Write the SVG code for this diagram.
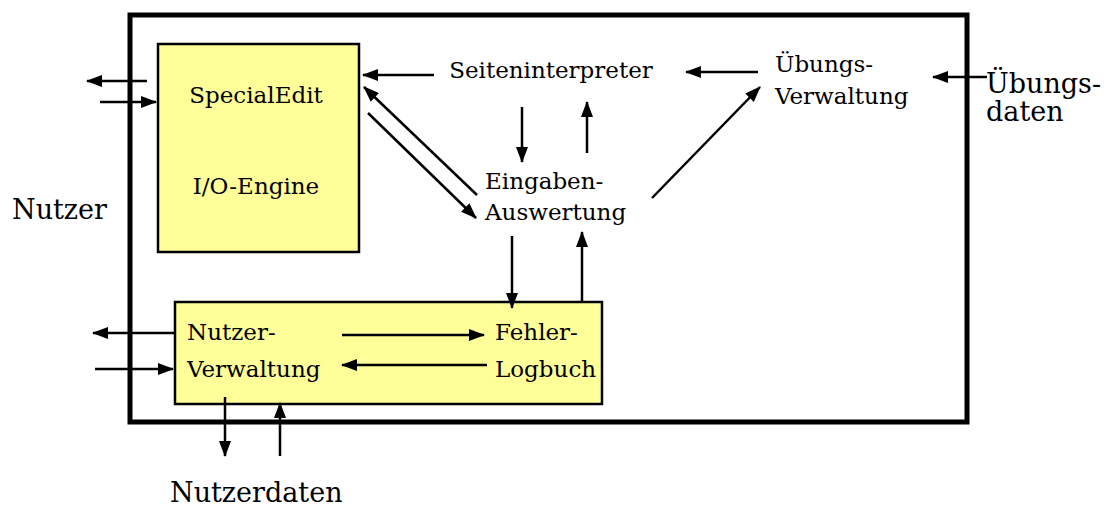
<svg xmlns="http://www.w3.org/2000/svg" width="1108" height="508" viewBox="0 0 1108 508">
  <style>
    .lbl { font-family: "DejaVu Serif", "Liberation Serif", serif; font-size: 23px; fill: #000; }
    .big { font-family: "DejaVu Serif", "Liberation Serif", serif; font-size: 27px; fill: #000; }
    .box { fill: #ffff99; stroke: #000; stroke-width: 2.5; }
    .frame { fill: none; stroke: #000; stroke-width: 5; }
    .conn { fill: none; stroke: #000; stroke-width: 2.5; marker-end: url(#arrow); }
  </style>
  <defs>
    <marker id="arrow" markerUnits="userSpaceOnUse" markerWidth="16" markerHeight="12" refX="15" refY="6" orient="auto">
      <path d="M0,0 L16,6 L0,12 Z" fill="#000"/>
    </marker>
  </defs>

  <rect width="1108" height="508" fill="#fff"/>

  <!-- system boundary -->
  <rect id="system" class="frame" x="130" y="15" width="837" height="407"/>

  <g id="special-edit">
    <rect class="box" x="158" y="44" width="201" height="208"/>
    <text class="lbl" x="256" y="103" text-anchor="middle">SpecialEdit</text>
    <text class="lbl" x="256" y="194" text-anchor="middle">I/O-Engine</text>
  </g>

  <g id="seiteninterpreter">
    <text class="lbl" x="551" y="78" text-anchor="middle">Seiteninterpreter</text>
  </g>

  <g id="uebungs-verwaltung">
    <text class="lbl" x="775" y="72">Übungs-</text>
    <text class="lbl" x="775" y="104">Verwaltung</text>
  </g>

  <g id="eingaben-auswertung">
    <text class="lbl" x="485" y="189">Eingaben-</text>
    <text class="lbl" x="485" y="220">Auswertung</text>
  </g>

  <g id="nutzer-verwaltung">
    <rect class="box" x="175" y="302" width="427" height="102"/>
    <text class="lbl" x="187" y="340">Nutzer-</text>
    <text class="lbl" x="187" y="377">Verwaltung</text>
    <text class="lbl" x="495" y="340">Fehler-</text>
    <text class="lbl" x="495" y="377">Logbuch</text>
  </g>

  <g id="nutzer">
    <text class="big" x="12" y="219">Nutzer</text>
  </g>

  <g id="uebungsdaten">
    <text class="big" x="986" y="93">Übungs-</text>
    <text class="big" x="986" y="121">daten</text>
  </g>

  <g id="nutzerdaten">
    <text class="big" x="170" y="502">Nutzerdaten</text>
  </g>

  <g id="connectors">
    <!-- user <-> SpecialEdit -->
    <line class="conn" x1="147" y1="81" x2="87" y2="81"/>
    <line class="conn" x1="100" y1="102" x2="156" y2="102"/>
    <!-- Seiteninterpreter -> SpecialEdit -->
    <line class="conn" x1="434" y1="75" x2="363" y2="75"/>
    <!-- SpecialEdit <-> Eingaben-Auswertung -->
    <line class="conn" x1="477" y1="195" x2="364" y2="87"/>
    <line class="conn" x1="368" y1="113" x2="476" y2="218"/>
    <!-- Seiteninterpreter <-> Eingaben-Auswertung -->
    <line class="conn" x1="522" y1="107" x2="522" y2="162"/>
    <line class="conn" x1="587" y1="153" x2="587" y2="102"/>
    <!-- Uebungs-Verwaltung -> Seiteninterpreter -->
    <line class="conn" x1="758" y1="72" x2="686" y2="72"/>
    <!-- Eingaben-Auswertung -> Uebungs-Verwaltung -->
    <line class="conn" x1="652" y1="198" x2="760" y2="87"/>
    <!-- Uebungsdaten -> Uebungs-Verwaltung -->
    <line class="conn" x1="987" y1="77" x2="933" y2="77"/>
    <!-- Eingaben-Auswertung <-> Fehler-Logbuch -->
    <line class="conn" x1="512" y1="236" x2="512" y2="308"/>
    <line class="conn" x1="582" y1="302" x2="582" y2="232"/>
    <!-- Nutzer-Verwaltung <-> Fehler-Logbuch -->
    <line class="conn" x1="342" y1="335" x2="484" y2="335"/>
    <line class="conn" x1="487" y1="365" x2="342" y2="365"/>
    <!-- user <-> Nutzer-Verwaltung -->
    <line class="conn" x1="175" y1="333" x2="93" y2="333"/>
    <line class="conn" x1="95" y1="369" x2="173" y2="369"/>
    <!-- Nutzer-Verwaltung <-> Nutzerdaten -->
    <line class="conn" x1="225" y1="397" x2="225" y2="456"/>
    <line class="conn" x1="280" y1="456" x2="280" y2="403"/>
  </g>
</svg>
